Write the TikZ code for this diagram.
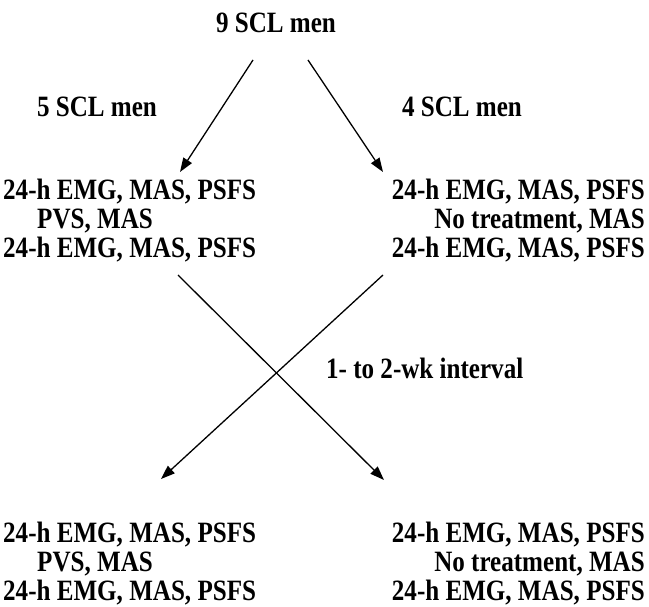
\documentclass[tikz,border=0pt]{standalone}
\usepackage{fontspec}
\setmainfont[FakeStretch=0.85]{Liberation Serif}
\usetikzlibrary{arrows.meta}
\begin{document}
\begin{tikzpicture}[x=1pt,y=-1pt,
  lbl/.style={inner sep=0pt,font=\fontsize{29.5}{32}\selectfont\bfseries},
  arr/.style={line width=1.3pt,-{Triangle[length=14pt,width=10pt]}}]
\useasboundingbox (0,0) rectangle (649,607);
% top
\node[lbl,anchor=base] (top) at (276,33) {9 SCL men};
\node[lbl,anchor=base] (n5) at (97,117) {5 SCL men};
\node[lbl,anchor=base] (n4) at (462,117) {4 SCL men};
% upper left block
\node[lbl,anchor=base west] (ula) at (3,200) {24-h EMG, MAS, PSFS};
\node[lbl,anchor=base west] (ulb) at (37,229) {PVS, MAS};
\node[lbl,anchor=base west] (ulc) at (3,258) {24-h EMG, MAS, PSFS};
% upper right block
\node[lbl,anchor=base east] (ura) at (645,200) {24-h EMG, MAS, PSFS};
\node[lbl,anchor=base east] (urb) at (645,229) {No treatment, MAS};
\node[lbl,anchor=base east] (urc) at (645,258) {24-h EMG, MAS, PSFS};
% interval label
\node[lbl,anchor=base west] (iv) at (326,378) {1- to 2-wk interval};
% lower left block
\node[lbl,anchor=base west] (lla) at (3,542) {24-h EMG, MAS, PSFS};
\node[lbl,anchor=base west] (llb) at (37,571) {PVS, MAS};
\node[lbl,anchor=base west] (llc) at (3,600) {24-h EMG, MAS, PSFS};
% lower right block
\node[lbl,anchor=base east] (lra) at (645,542) {24-h EMG, MAS, PSFS};
\node[lbl,anchor=base east] (lrb) at (645,571) {No treatment, MAS};
\node[lbl,anchor=base east] (lrc) at (645,600) {24-h EMG, MAS, PSFS};
% arrow end points
\coordinate (s1) at (253,60);
\coordinate (e1) at (180,172);
\coordinate (s2) at (308,60);
\coordinate (e2) at (383,172);
\coordinate (s3) at (178,275);
\coordinate (e3) at (384,480);
\coordinate (s4) at (383,275);
\coordinate (e4) at (161,479);
\draw[arr] (s1) -- (e1);
\draw[arr] (s2) -- (e2);
\draw[arr] (s3) -- (e3);
\draw[arr] (s4) -- (e4);
\end{tikzpicture}
\end{document}
